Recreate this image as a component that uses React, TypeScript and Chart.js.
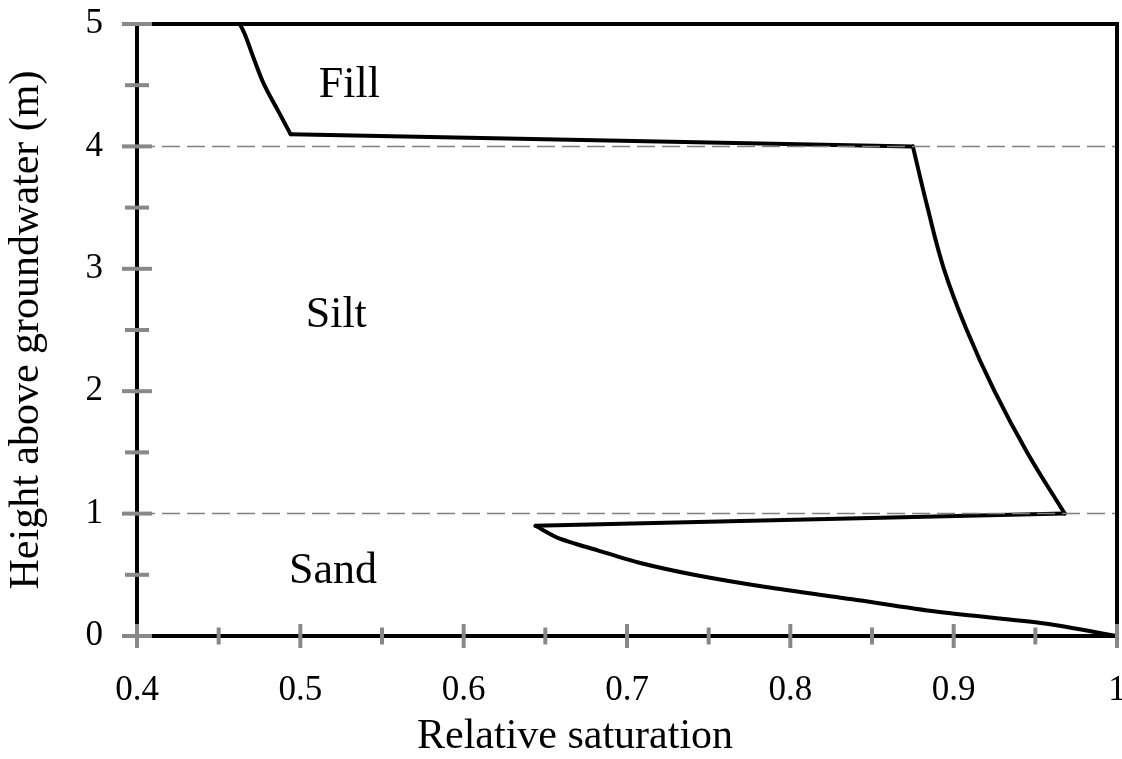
import { useEffect, useRef } from "react";
import { Chart, registerables } from "chart.js";

Chart.register(...registerables);

// Relative saturation vs height above groundwater, one list per soil layer
const fillHeights = [5.0, 4.9, 4.7, 4.5, 4.3, 4.1];
const fillSaturation = [0.463, 0.4665, 0.472, 0.478, 0.486, 0.494];

const siltHeights = [4.0, 3.5, 3.0, 2.5, 2.0, 1.5, 1.0];
const siltSaturation = [0.875, 0.884, 0.894, 0.908, 0.925, 0.945, 0.968];

const sandHeights = [0.9, 0.8, 0.7, 0.6, 0.5, 0.4, 0.3, 0.2, 0.1, 0.0];
const sandSaturation = [0.644, 0.658, 0.682, 0.707, 0.741, 0.785, 0.838, 0.889, 0.957, 1.0];

const layerBoundaries = [4, 1];
const layerLabels = ["Fill", "Silt", "Sand"];
const labelSaturation = [0.53, 0.522, 0.52];
const labelHeights = [4.5, 2.62, 0.53];

const xMin = 0.4;
const xMax = 1.0;
const xStep = 0.1;
const yMin = 0;
const yMax = 5;
const yStep = 1;

const xTitle = "Relative saturation";
const yTitle = "Height above groundwater (m)";

const FONT = "'Liberation Serif', 'Times New Roman', serif";

const framePlugin = {
  id: "frameTicks",
  afterDraw(chart: any) {
    const { ctx, chartArea, scales } = chart;
    const { left, right, top, bottom } = chartArea;
    ctx.save();
    ctx.strokeStyle = "#000";
    ctx.lineWidth = 4;
    ctx.strokeRect(left, top, right - left, bottom - top);
    ctx.strokeStyle = "#888";
    ctx.lineWidth = 4;
    ctx.lineCap = "butt";
    const xs = scales.x;
    const ys = scales.y;
    const xMaj = xs.ticks.map((t: any) => t.value);
    const yMaj = ys.ticks.map((t: any) => t.value);
    const drawX = (v: number, half: number) => {
      const px = xs.getPixelForValue(v);
      ctx.beginPath();
      ctx.moveTo(px, bottom - half);
      ctx.lineTo(px, bottom + half);
      ctx.stroke();
    };
    const drawY = (v: number, half: number) => {
      const py = ys.getPixelForValue(v);
      ctx.beginPath();
      ctx.moveTo(left - half, py);
      ctx.lineTo(left + half, py);
      ctx.stroke();
    };
    xMaj.forEach((v: number, i: number) => {
      drawX(v, 12);
      if (i < xMaj.length - 1) drawX((v + xMaj[i + 1]) / 2, 8.5);
    });
    yMaj.forEach((v: number, i: number) => {
      drawY(v, 15);
      if (i < yMaj.length - 1) drawY((v + yMaj[i + 1]) / 2, 12);
    });
    ctx.fillStyle = "#000";
    ctx.font = `44px ${FONT}`;
    ctx.textAlign = "center";
    ctx.textBaseline = "middle";
    layerLabels.forEach((txt, i) => {
      ctx.fillText(
        txt,
        xs.getPixelForValue(labelSaturation[i]),
        ys.getPixelForValue(labelHeights[i])
      );
    });
    ctx.font = `42px ${FONT}`;
    ctx.textAlign = "left";
    ctx.fillText(xTitle, left + 280, bottom + 101);
    ctx.restore();
  },
};

const toPoints = (xs: number[], ys: number[]) => xs.map((x, i) => ({ x, y: ys[i] }));

export default function App() {
  const ref = useRef<HTMLCanvasElement>(null);
  useEffect(() => {
    if (!ref.current) return;
    Chart.defaults.font.family = FONT;
    const boundaryDatasets = layerBoundaries.map((h) => ({
      data: [
        { x: xMin, y: h },
        { x: xMax, y: h },
      ],
      showLine: true,
      borderColor: "#808080",
      borderWidth: 1.5,
      borderDash: [18, 7],
      pointRadius: 0,
      fill: false,
    }));
    const lineStyle = {
      showLine: true,
      borderColor: "#000",
      borderWidth: 4,
      pointRadius: 0,
      fill: false,
      borderCapStyle: "round",
      borderJoinStyle: "round",
    };
    const curves = [
      toPoints(fillSaturation, fillHeights),
      toPoints(siltSaturation, siltHeights),
      toPoints(sandSaturation, sandHeights),
    ];
    const curveDatasets = curves.map((data, i) => ({
      ...lineStyle,
      data,
      tension: i === 2 ? 0.25 : 0.4,
    }));
    const jumpDatasets = [0, 1].map((i) => ({
      ...lineStyle,
      tension: 0,
      data: [curves[i][curves[i].length - 1], curves[i + 1][0]],
    }));
    const chart = new Chart(ref.current, {
      type: "scatter",
      data: {
        datasets: [...boundaryDatasets, ...curveDatasets, ...jumpDatasets] as any,
      },
      options: {
        animation: false,
        responsive: false,
        events: [],
        layout: { padding: { top: 24, right: 5, left: 0, bottom: 0 } },
        plugins: {
          legend: { display: false },
          tooltip: { enabled: false },
        },
        scales: {
          x: {
            type: "linear",
            min: xMin,
            max: xMax,
            grid: { display: false, drawTicks: false },
            border: { display: false },
            ticks: {
              stepSize: xStep,
              color: "#000",
              font: { size: 35, family: FONT },
              padding: 34,
              maxRotation: 0,
              callback: (v: any) => String(Number(Number(v).toFixed(2))),
            },
            title: { display: false, text: xTitle },
            afterFit: (s: any) => {
              s.height = 123;
              s.paddingLeft = 0;
              s.paddingRight = 0;
            },
          },
          y: {
            type: "linear",
            min: yMin,
            max: yMax,
            grid: { display: false, drawTicks: false },
            border: { display: false },
            ticks: {
              stepSize: yStep,
              color: "#000",
              font: { size: 35, family: FONT },
              padding: 34,
            },
            title: {
              display: true,
              text: yTitle,
              color: "#000",
              font: { size: 42, family: FONT, lineHeight: 1.2 },
              padding: { top: 2, bottom: 0 },
            },
            afterFit: (s: any) => {
              s.width = 137;
              s.paddingTop = 0;
              s.paddingBottom = 0;
            },
          },
        },
      },
      plugins: [framePlugin],
    });
    return () => chart.destroy();
  }, []);
  return (
    <div style={{ position: "fixed", left: 0, top: 0, width: 1122, height: 759, background: "#fff" }}>
      <canvas ref={ref} width={1122} height={759} style={{ display: "block" }} />
    </div>
  );
}
